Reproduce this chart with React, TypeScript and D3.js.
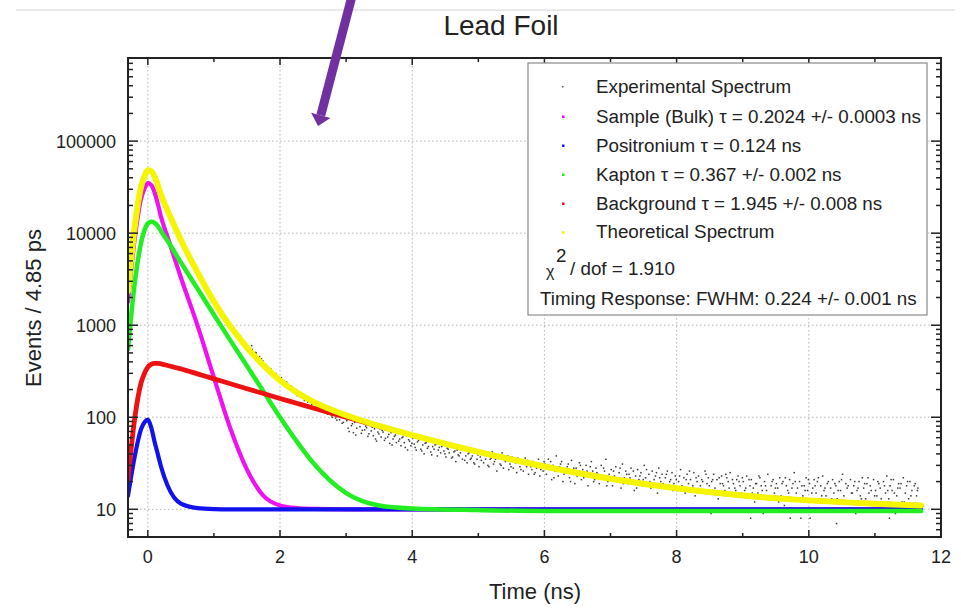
import React from 'react';
import * as d3 from 'd3';

// ---- data ----
const times = [-0.3, -0.2, -0.1, -0.05, 0, 0.05, 0.1, 0.15, 0.2, 0.3, 0.5, 0.75, 1.0, 1.25, 1.5, 1.75, 2.0, 2.25, 2.5, 3.0, 3.5, 4.0, 5.0, 6.0, 7.0, 8.0, 9.0, 10.0, 11.0, 11.7];
const sampleBulk = [1800, 8500, 24000, 30500, 35000, 33500, 28000, 21000, 15000, 9000, 3300, 1000, 270, 75, 27, 14, 11, 10.3, 10.1, 10, 10, 10, 10, 10, 10, 10, 10, 10, 10, 10];
const positronium = [14, 37, 75, 88, 94, 78, 55, 40, 29, 18, 11.5, 10.3, 10.05, 10, 10, 10, 10, 10, 10, 10, 10, 10, 10, 10, 10, 10, 10, 10, 10, 10];
const kapton = [550, 2800, 8000, 10800, 12800, 13300, 13000, 12000, 10500, 8200, 4800, 2500, 1300, 680, 360, 190, 100, 55, 32, 15, 11, 10.2, 9.8, 9.6, 9.6, 9.6, 9.6, 9.6, 9.6, 9.6];
const background = [21, 95, 240, 300, 350, 375, 385, 385, 380, 365, 335, 296, 261, 231, 204, 181, 160, 142, 126, 100, 79.5, 63.7, 42.1, 29.2, 21.5, 16.9, 14.1, 12.5, 11.5, 11.0];
const theoretical = [2355, 11400, 32300, 41700, 48200, 47200, 41400, 33400, 25900, 17550, 8420, 3780, 1810, 966, 571, 365, 251, 187, 148, 105, 80.5, 64, 42.1, 29.2, 21.5, 16.9, 14.1, 12.5, 11.5, 11.0];

const experimental: [number, number][] = [
  [1.33, 860], [1.36, 780], [1.40, 760], [1.43, 690], [1.46, 655], [1.49, 600],
  [1.52, 590], [1.55, 520], [1.58, 545], [1.61, 470], [1.63, 505], [1.66, 430], [1.69, 455], [1.71, 395], [1.74, 410], [1.77, 340],
  [1.80, 360], [1.82, 318], [1.85, 330], [1.88, 290], [1.90, 300], [1.93, 265], [1.96, 280], [1.98, 246], [2.01, 258], [2.04, 228],
  [2.07, 240], [2.09, 214], [2.12, 226], [2.15, 200], [2.18, 211], [2.20, 186], [2.23, 198], [2.26, 172], [2.29, 183], [2.31, 166],
  [2.34, 176], [2.37, 152], [2.40, 163], [2.42, 146], [2.45, 155], [2.48, 137], [2.51, 147], [2.54, 128], [2.57, 139], [2.60, 122],
  [2.63, 133], [2.66, 117], [2.69, 124], [2.72, 108], [2.75, 119], [2.78, 104], [2.81, 113], [2.84, 98], [2.87, 107], [2.90, 94],
  [2.93, 101], [2.96, 88], [2.99, 97],
  [3.01, 92], [3.03, 76], [3.06, 96], [3.08, 81], [3.11, 68], [3.13, 88], [3.16, 76], [3.18, 98], [3.21, 79], [3.23, 67],
  [3.26, 86], [3.28, 73], [3.31, 77], [3.33, 62], [3.36, 84], [3.38, 71], [3.41, 63], [3.43, 75], [3.46, 55], [3.48, 69],
  [3.51, 75], [3.53, 61], [3.56, 69], [3.58, 56], [3.61, 77], [3.63, 61], [3.66, 52], [3.68, 68], [3.71, 58], [3.73, 62],
  [3.76, 53], [3.78, 69], [3.81, 58], [3.83, 49], [3.86, 61], [3.88, 53], [3.91, 63], [3.93, 44], [3.96, 55], [3.98, 49],
  [4.01, 59], [4.03, 51], [4.06, 44], [4.08, 54], [4.11, 59], [4.13, 45], [4.16, 50], [4.18, 40], [4.21, 53], [4.23, 46],
  [4.26, 59], [4.28, 42], [4.31, 48], [4.33, 45], [4.36, 51], [4.38, 38], [4.41, 47], [4.43, 41], [4.46, 50], [4.48, 43],
  [4.51, 37], [4.53, 46], [4.56, 41], [4.58, 49], [4.61, 37], [4.63, 42], [4.66, 33], [4.68, 44], [4.71, 38], [4.73, 41],
  [4.76, 35], [4.78, 47], [4.81, 38], [4.83, 32], [4.86, 41], [4.88, 35], [4.91, 38], [4.93, 32], [4.96, 41], [4.98, 35],
  [5.01, 29], [5.03, 37], [5.06, 43], [5.08, 32], [5.11, 35], [5.13, 38], [5.16, 29], [5.18, 35], [5.21, 42], [5.23, 31],
  [5.26, 35], [5.28, 26], [5.31, 37], [5.33, 31], [5.36, 41], [5.38, 28], [5.41, 33], [5.43, 36], [5.46, 27], [5.48, 31],
  [5.51, 37], [5.53, 28], [5.56, 32], [5.58, 25], [5.61, 35], [5.63, 29], [5.66, 32], [5.68, 26], [5.71, 36], [5.73, 29],
  [5.76, 24], [5.78, 32], [5.81, 27], [5.83, 33], [5.86, 25], [5.88, 28], [5.91, 35], [5.93, 23], [5.96, 29], [5.98, 26],
  [6.01, 31], [6.03, 24], [6.06, 35], [6.08, 27], [6.11, 21], [6.13, 30], [6.16, 26], [6.18, 38], [6.21, 23], [6.23, 29],
  [6.26, 33], [6.28, 20], [6.31, 27], [6.33, 25], [6.36, 31], [6.38, 22], [6.41, 34], [6.43, 26], [6.46, 19], [6.48, 28],
  [6.51, 24], [6.53, 32], [6.56, 21], [6.58, 27], [6.61, 25], [6.63, 30], [6.66, 18], [6.68, 23], [6.71, 33], [6.73, 26],
  [6.76, 21], [6.78, 28], [6.81, 24], [6.83, 19], [6.86, 30], [6.88, 22], [6.91, 26], [6.93, 35], [6.96, 20], [6.98, 24],
  [7.01, 27], [7.03, 18], [7.06, 23], [7.08, 29], [7.11, 21], [7.13, 25], [7.16, 17], [7.18, 31], [7.21, 22], [7.23, 26],
  [7.26, 19], [7.28, 24], [7.31, 28], [7.33, 20], [7.36, 16], [7.38, 23], [7.41, 27], [7.43, 21], [7.46, 25], [7.48, 18],
  [7.51, 30], [7.53, 22], [7.56, 19], [7.58, 24], [7.61, 17], [7.63, 26], [7.66, 21], [7.68, 23], [7.71, 15], [7.73, 28],
  [7.76, 20], [7.78, 24], [7.81, 18], [7.83, 22], [7.86, 26], [7.88, 17], [7.91, 21], [7.93, 25], [7.96, 19], [7.98, 23],
  [8.01, 16], [8.03, 20], [8.06, 27], [8.08, 18], [8.11, 22], [8.13, 15], [8.16, 24], [8.18, 19], [8.21, 21], [8.23, 17],
  [8.26, 25], [8.28, 14], [8.31, 20], [8.33, 23], [8.36, 18], [8.38, 21], [8.41, 16], [8.43, 26], [8.46, 19], [8.48, 22],
  [8.51, 15], [8.53, 20], [8.56, 24], [8.58, 17], [8.61, 21], [8.63, 13], [8.66, 19], [8.68, 23], [8.71, 18], [8.73, 16],
  [8.76, 22], [8.78, 20], [8.81, 25], [8.83, 14], [8.86, 19], [8.88, 17], [8.91, 21], [8.93, 23], [8.96, 18], [8.98, 15],
  [9.01, 20], [9.03, 16], [9.06, 23], [9.08, 14], [9.11, 18], [9.13, 21], [9.16, 17], [9.18, 12], [9.21, 19], [9.23, 15],
  [9.26, 22], [9.28, 18], [9.31, 9], [9.33, 20], [9.36, 16], [9.38, 24], [9.41, 13], [9.43, 18], [9.46, 21], [9.48, 15],
  [9.51, 19], [9.53, 17], [9.56, 22], [9.58, 14], [9.61, 20], [9.63, 11], [9.66, 18], [9.68, 16], [9.71, 21], [9.73, 13],
  [9.76, 19], [9.78, 25], [9.81, 15], [9.83, 17], [9.86, 20], [9.88, 8], [9.91, 14], [9.93, 18], [9.96, 22], [9.98, 16],
  [10.01, 19], [10.03, 13], [10.06, 17], [10.08, 21], [10.11, 15], [10.13, 20], [10.16, 12], [10.18, 18], [10.21, 23], [10.23, 16],
  [10.26, 14], [10.28, 19], [10.31, 10], [10.33, 17], [10.36, 21], [10.38, 15], [10.41, 18], [10.43, 13], [10.46, 20], [10.48, 16],
  [10.51, 24], [10.53, 14], [10.56, 19], [10.58, 17], [10.61, 12], [10.63, 21], [10.66, 15], [10.68, 18], [10.71, 9], [10.73, 16],
  [10.76, 20], [10.78, 14], [10.81, 22], [10.83, 17], [10.86, 13], [10.88, 19], [10.91, 15], [10.93, 18], [10.96, 11], [10.98, 21],
  [11.01, 16], [11.03, 14], [11.06, 19], [11.08, 17], [11.11, 12], [11.13, 20], [11.16, 15], [11.18, 23], [11.21, 13], [11.23, 18],
  [11.26, 16], [11.28, 21], [11.31, 9], [11.33, 14], [11.36, 19], [11.38, 17], [11.41, 12], [11.43, 22], [11.46, 15], [11.48, 18],
  [11.51, 13], [11.53, 20], [11.56, 16], [11.58, 10], [11.61, 19], [11.63, 14], [11.65, 17],
  // second pass of points between the ones above
  [1.57, 600], [1.64, 500], [1.72, 430], [1.79, 372], [1.86, 335], [1.94, 298], [2.02, 270], [2.10, 240], [2.17, 218], [2.24, 200],
  [2.33, 180], [2.41, 166], [2.47, 150], [2.56, 124], [2.64, 118], [2.71, 112], [2.79, 100], [2.86, 93], [2.94, 86],
  [3.045, 70], [3.095, 85], [3.145, 64], [3.195, 90], [3.245, 72], [3.295, 80], [3.345, 66], [3.395, 78], [3.445, 58], [3.495, 66],
  [3.545, 72], [3.595, 59], [3.645, 65], [3.695, 50], [3.745, 64], [3.795, 55], [3.845, 60], [3.895, 47], [3.945, 57], [3.995, 52],
  [4.045, 47], [4.095, 56], [4.145, 43], [4.195, 52], [4.245, 48], [4.295, 39], [4.345, 50], [4.395, 44], [4.445, 48], [4.495, 40],
  [4.545, 45], [4.595, 36], [4.645, 43], [4.695, 39], [4.745, 44], [4.795, 34], [4.845, 40], [4.895, 36], [4.945, 31], [4.995, 39],
  [5.045, 34], [5.095, 39], [5.145, 30], [5.195, 36], [5.245, 33], [5.295, 39], [5.345, 30], [5.395, 34], [5.445, 38], [5.495, 29],
  [5.545, 33], [5.595, 36], [5.645, 27], [5.695, 31], [5.745, 34], [5.795, 29], [5.845, 24], [5.895, 31], [5.945, 27], [5.995, 33],
  [6.045, 28], [6.095, 33], [6.145, 22], [6.195, 27], [6.245, 31], [6.295, 24], [6.345, 29], [6.395, 20], [6.445, 28], [6.495, 23],
  [6.545, 30], [6.595, 22], [6.645, 26], [6.695, 29], [6.745, 20], [6.795, 25], [6.845, 23], [6.895, 28], [6.945, 18], [6.995, 22],
  [7.045, 26], [7.095, 20], [7.145, 28], [7.195, 19], [7.245, 24], [7.295, 22], [7.345, 26], [7.395, 17], [7.445, 23], [7.495, 21],
  [7.545, 27], [7.595, 20], [7.645, 18], [7.695, 25], [7.745, 22], [7.795, 19], [7.845, 24], [7.895, 20], [7.945, 16], [7.995, 21],
  [8.045, 23], [8.095, 17], [8.145, 21], [8.195, 26], [8.245, 18], [8.295, 22], [8.345, 16], [8.395, 20], [8.445, 24], [8.495, 18],
  [8.545, 21], [8.595, 15], [8.645, 22], [8.695, 19], [8.745, 24], [8.795, 17], [8.845, 21], [8.895, 16], [8.945, 20], [8.995, 22],
  [9.045, 17], [9.095, 21], [9.145, 15], [9.195, 19], [9.245, 23], [9.295, 16], [9.345, 18], [9.395, 14], [9.445, 20], [9.495, 17],
  [9.545, 12], [9.595, 19], [9.645, 22], [9.695, 15], [9.745, 17], [9.795, 20], [9.845, 13], [9.895, 18], [9.945, 16], [9.995, 21],
  [10.045, 15], [10.095, 18], [10.145, 22], [10.195, 14], [10.245, 17], [10.295, 20], [10.345, 13], [10.395, 19], [10.445, 16], [10.495, 21],
  [10.545, 12], [10.595, 18], [10.645, 15], [10.695, 20], [10.745, 17], [10.795, 13], [10.845, 19], [10.895, 22], [10.945, 16], [10.995, 14],
  [11.045, 20], [11.095, 13], [11.145, 18], [11.195, 16], [11.245, 21], [11.295, 15], [11.345, 17], [11.395, 19], [11.445, 12], [11.495, 20],
  [11.545, 14], [11.595, 18], [11.645, 16],
  [9.12, 8], [9.72, 8], [10.02, 8], [10.42, 7], [11.22, 8], [8.52, 9],
];

const xTickValues = [0, 2, 4, 6, 8, 10, 12];
const xMinorTicks = [1, 3, 5, 7, 9, 11];
const yTickValues = [10, 100, 1000, 10000, 100000];
const yTickLabels = ['10', '100', '1000', '10000', '100000'];

const legendLabels = [
  'Experimental Spectrum',
  'Sample (Bulk) \u03c4 = 0.2024 +/- 0.0003 ns',
  'Positronium \u03c4 = 0.124 ns',
  'Kapton \u03c4 = 0.367 +/- 0.002 ns',
  'Background \u03c4 = 1.945 +/- 0.008 ns',
  'Theoretical Spectrum',
];
const legendColors = ['#555555', '#ff00ff', '#1515ee', '#22ee22', '#ee1111', '#f2f200'];

const seriesList = [
  { values: sampleBulk, color: '#f010f0', width: 4.2 },
  { values: positronium, color: '#1212ee', width: 4.2 },
  { values: kapton, color: '#22ee22', width: 4.5 },
  { values: background, color: '#ee1111', width: 4.8 },
  { values: theoretical, color: '#f5f500', width: 6 },
];

export default function App() {
  const W = 961, H = 613;
  const L = 128, R = 941, TOP = 58, B = 537;
  const x = d3.scaleLinear().domain([-0.3, 12]).range([L, R]);
  const y = d3.scaleLog().domain([5, 8e5]).range([B, TOP]);
  const line = d3
    .line<number>()
    .x((_, i) => x(times[i]))
    .y((d) => y(d))
    .curve(d3.curveMonotoneX);

  const yAll = y.ticks();
  const isMajor = (v: number) => Math.abs(Math.log10(v) - Math.round(Math.log10(v))) < 1e-9;
  const font = "'Liberation Sans', Arial, Helvetica, sans-serif";
  const textColor = '#222';

  // arrow geometry (annotation)
  const ax0 = 352, ay0 = -4, ax1 = 318, ay1 = 126;
  const len = Math.hypot(ax1 - ax0, ay1 - ay0);
  const ux = (ax1 - ax0) / len, uy = (ay1 - ay0) / len;
  const bx = ax1 - 11 * ux, by = ay1 - 11 * uy;
  const px = -uy, py = ux;

  const legendRowY = [93, 122.5, 151.5, 180.5, 209.5, 238.3];

  return (
    <svg
      width={W}
      height={H}
      style={{ position: 'absolute', left: 0, top: 0, background: '#fff' }}
      fontFamily={font}
    >
      <defs>
        <clipPath id="plotClip">
          <rect x={L} y={TOP} width={R - L} height={B - TOP} />
        </clipPath>
      </defs>
      <rect x={0} y={0} width={W} height={H} fill="#fff" />
      {/* slide separator */}
      <line x1={16} x2={955} y1={10} y2={10} stroke="#e2e2e2" strokeWidth={1.5} />

      {/* title */}
      <text x={501} y={35} textAnchor="middle" fontSize={28} fill={textColor}>
        Lead Foil
      </text>

      {/* grid */}
      <g stroke="#b5b5b5" strokeWidth={1} strokeDasharray="1.5,2.5">
        {xTickValues
          .filter((v) => v < 12)
          .map((v) => (
            <line key={'gx' + v} x1={x(v)} x2={x(v)} y1={TOP} y2={B} />
          ))}
        {yTickValues.map((v) => (
          <line key={'gy' + v} x1={L} x2={R} y1={y(v)} y2={y(v)} />
        ))}
      </g>

      {/* experimental points */}
      <g clipPath="url(#plotClip)" fill="#3a3a3a">
        {experimental.map(([t, v], i) => (
          <rect key={'e' + i} x={x(t) - 0.75} y={y(v) - 0.75} width={1.5} height={1.5} />
        ))}
      </g>

      {/* curves */}
      <g clipPath="url(#plotClip)" fill="none" strokeLinejoin="round" strokeLinecap="round">
        {seriesList.map((s, i) => (
          <path key={'s' + i} d={line(s.values) || ''} stroke={s.color} strokeWidth={s.width} />
        ))}
      </g>

      {/* frame */}
      <rect x={L} y={TOP} width={R - L} height={B - TOP} fill="none" stroke="#222" strokeWidth={2} />

      {/* ticks */}
      <g stroke="#222" strokeWidth={1.5}>
        {xTickValues.map((v) => (
          <g key={'xt' + v}>
            <line x1={x(v)} x2={x(v)} y1={B} y2={B - 7} />
            <line x1={x(v)} x2={x(v)} y1={TOP} y2={TOP + 7} />
          </g>
        ))}
        {xMinorTicks.map((v) => (
          <g key={'xm' + v}>
            <line x1={x(v)} x2={x(v)} y1={B} y2={B - 4} />
            <line x1={x(v)} x2={x(v)} y1={TOP} y2={TOP + 4} />
          </g>
        ))}
        {yAll.map((v, i) => {
          const maj = isMajor(v);
          const l = maj ? 10 : 5;
          return (
            <g key={'yt' + i}>
              <line x1={L} x2={L + l} y1={y(v)} y2={y(v)} />
              <line x1={R} x2={R - l} y1={y(v)} y2={y(v)} />
            </g>
          );
        })}
      </g>

      {/* tick labels */}
      <g fontSize={18} fill={textColor}>
        {xTickValues.map((v) => (
          <text key={'xl' + v} x={x(v)} y={563} textAnchor="middle">
            {String(v)}
          </text>
        ))}
        {yTickValues.map((v, i) => (
          <text key={'yl' + v} x={116} y={y(v) + 6.5} textAnchor="end">
            {yTickLabels[i]}
          </text>
        ))}
      </g>

      {/* axis titles */}
      <text x={535} y={599} textAnchor="middle" fontSize={22} fill={textColor}>
        Time (ns)
      </text>
      <text
        transform={`translate(41, 308) rotate(-90)`}
        textAnchor="middle"
        fontSize={22}
        fill={textColor}
      >
        Events / 4.85 ps
      </text>

      {/* legend */}
      <rect x={528} y={63} width={399} height={252} fill="#fff" stroke="#8a8a8a" strokeWidth={1.2} />
      {legendLabels.map((lab, i) => (
        <g key={'lg' + i}>
          <rect x={562} y={legendRowY[i] - 7} width={i === 0 ? 1.5 : 2.5} height={i === 0 ? 1.5 : 2.5} fill={legendColors[i]} />
          <text x={596} y={legendRowY[i]} fontSize={18.8} fill={textColor}>
            {lab}
          </text>
        </g>
      ))}
      <text x={546} y={277} fontSize={16} fill={textColor}>
        {'\u03c7'}
      </text>
      <text x={556} y={262} fontSize={18.8} fill={textColor}>
        2
      </text>
      <text x={570} y={275} fontSize={18.8} fill={textColor}>
        / dof = 1.910
      </text>
      <text x={540} y={305} fontSize={18.8} fill={textColor}>
        Timing Response: FWHM: 0.224 +/- 0.001 ns
      </text>

      {/* purple annotation arrow */}
      <line x1={ax0} y1={ay0} x2={bx} y2={by} stroke="#7030a0" strokeWidth={9} />
      <polygon
        points={`${ax1},${ay1} ${bx + px * 10},${by + py * 10} ${bx - px * 10},${by - py * 10}`}
        fill="#7030a0"
      />
    </svg>
  );
}
